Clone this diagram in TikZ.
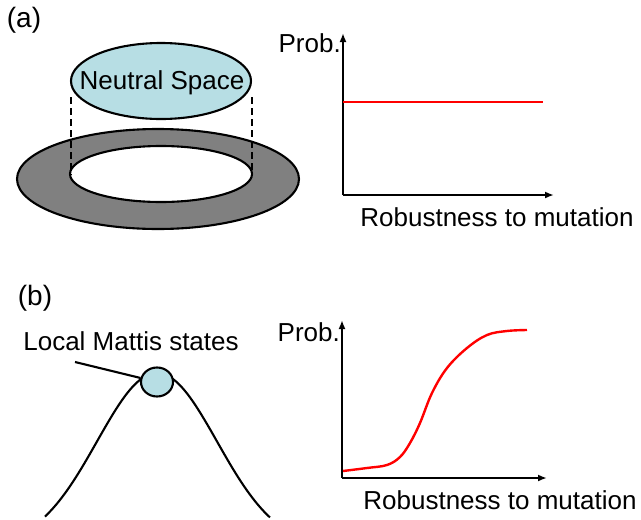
\documentclass[tikz,border=0pt]{standalone}
\usepackage{fontspec}
\setmainfont{Liberation Sans}
\usetikzlibrary{positioning, arrows.meta, shapes.geometric}
\definecolor{paleblue}{RGB}{183,222,228}
\definecolor{ringgray}{RGB}{128,128,128}

\begin{document}
\begin{tikzpicture}[
    x=1pt, y=-1pt,
    every node/.style={font=\fontsize{26}{30}\selectfont, inner sep=0pt},
    panel/.style={font=\fontsize{28}{32}\selectfont},
    outline/.style={draw, line width=2.1pt},
    axis/.style={-{Latex[length=9pt,width=7pt]}, line width=2.1pt},
    curve/.style={red, line width=2.4pt}]
  \useasboundingbox (0,0) rectangle (641,520);
  % --- (a): ring with the neutral space above it ---
  \node[panel] (laba) at (24,20) {(a)};
  \draw[outline, fill=ringgray] (158,179) ellipse [x radius=141, y radius=50];
  \draw[outline, fill=white] (161,174) ellipse [x radius=91, y radius=28];
  \coordinate (dl1) at (71,97);  \coordinate (dl2) at (71,175);
  \coordinate (dr1) at (252,97); \coordinate (dr2) at (252,175);
  \draw[line width=2.1pt, dash pattern=on 7pt off 4pt] (dl1) -- (dl2);
  \draw[line width=2.1pt, dash pattern=on 7pt off 4pt] (dr1) -- (dr2);
  \draw[outline, fill=paleblue] (161,81) ellipse [x radius=90, y radius=38];
  \node (ns) at (162,83) {Neutral Space};
  % --- (a): flat distribution ---
  \coordinate (oa) at (343,195);
  \coordinate (ya) at (343,33);
  \coordinate (xa) at (554,195);
  \draw[axis] (oa) -- (ya);
  \draw[axis] (oa) -- (xa);
  \node[anchor=east] (proba) at (341,43) {Prob.};
  \node (roba) at (497,217) {Robustness to mutation};
  \coordinate (fa1) at (343,102);
  \coordinate (fa2) at (543,102);
  \draw[curve] (fa1) -- (fa2);
  % --- (b): peak with local Mattis states ---
  \node[panel] (labb) at (35,298) {(b)};
  \draw[line width=2.1pt, domain=45:270, samples=80]
        plot (\x, {547-174*exp(-((\x-157)/60)^2/2)});
  \node[draw, ellipse, line width=2.1pt, fill=paleblue, minimum width=32pt,
        minimum height=29pt] (mattis) at (157,382) {};
  \node (lms) at (131,341) {Local Mattis states};
  \coordinate (lmsend) at (75,362);
  \draw[line width=2.1pt] (lmsend) -- (mattis);
  % --- (b): sigmoid distribution ---
  \coordinate (ob) at (342,478);
  \coordinate (yb) at (342,320);
  \coordinate (xb) at (547,478);
  \draw[axis] (ob) -- (yb);
  \draw[axis] (ob) -- (xb);
  \node[anchor=east] (probb) at (340,332) {Prob.};
  \node (robb) at (500,500) {Robustness to mutation};
  \draw[curve] plot[smooth, tension=0.6] coordinates {(343,471) (367,468)
        (387,465) (400,457) (410,443) (420,423) (432,393) (447,368)
        (467,348) (487,335) (507,331) (527,330)};
\end{tikzpicture}
\end{document}
